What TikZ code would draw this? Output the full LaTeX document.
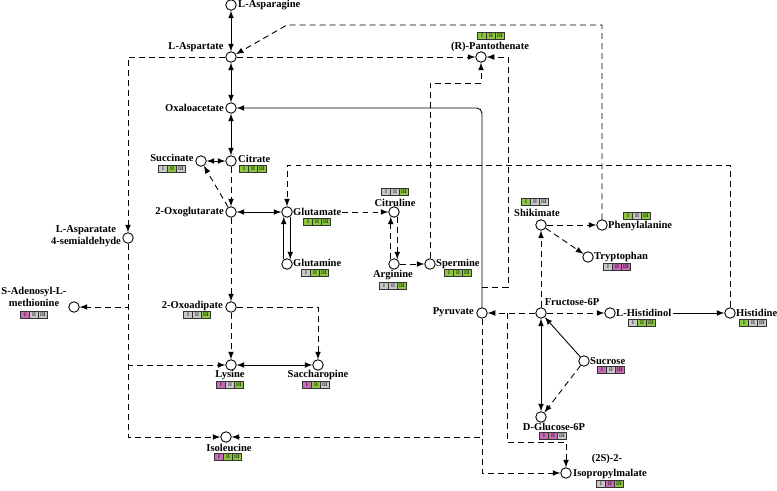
\documentclass[tikz,border=0pt]{standalone}
\usepackage{fontspec}
\setmainfont{Liberation Serif}
\usetikzlibrary{arrows,positioning}
\definecolor{grn}{HTML}{8DC63F}
\definecolor{gry}{HTML}{C8C8C8}
\definecolor{pnk}{HTML}{C76BB4}
\tikzstyle{metab} = [circle, draw=black, fill=white, minimum size=0.21cm, inner sep=0pt, line width=0.5pt]
\tikzstyle{lbl} = [font=\bfseries\fontsize{6}{6.6}\selectfont, inner sep=0.5pt, align=center]
\tikzstyle{cell} = [rectangle, draw=black!80, line width=0.4pt, minimum width=0.18cm, minimum height=0.15cm, inner sep=0pt, font=\fontsize{3.2}{3.5}\selectfont]
\tikzstyle{arrow} = [->,>=latex, line width=0.5pt]
\tikzstyle{biarrow} = [<->,>=latex, line width=0.5pt]
\tikzstyle{darrow} = [->,>=latex, line width=0.5pt, dash pattern=on 3.4pt off 2.3pt]
% three level cells I II III
\newcommand{\lvls}[5]{%
  \node[cell, fill=#3, xshift=-0.18cm] (#1a) at (#2) {I};
  \node[cell, fill=#4, right=-0.4pt of #1a] (#1b) {II};
  \node[cell, fill=#5, right=-0.4pt of #1b] (#1c) {III};
}

\begin{document}
\begin{tikzpicture}[x=0.02cm, y=-0.02cm]
\useasboundingbox (0,0) rectangle (777,490);
%代谢物
\node[metab] (asn) at (231,5) {};
\node[metab] (asp) at (231,57) {};
\node[metab] (oaa) at (231,108) {};
\node[metab] (cit) at (231,161) {};
\node[metab] (suc) at (201,161) {};
\node[metab] (akg) at (231,212) {};
\node[metab] (glu) at (287,212) {};
\node[metab] (gln) at (287,264) {};
\node[metab] (citr) at (394,212) {};
\node[metab] (arg) at (394,264) {};
\node[metab] (spm) at (430,264) {};
\node[metab] (pan) at (481,57) {};
\node[metab] (asa) at (128,238) {};
\node[metab] (sam) at (74,307) {};
\node[metab] (oad) at (231,307) {};
\node[metab] (lys) at (231,365) {};
\node[metab] (sac) at (318,365) {};
\node[metab] (ile) at (226,437) {};
\node[metab] (pyr) at (482,313) {};
\node[metab] (shk) at (541,225) {};
\node[metab] (phe) at (602,225) {};
\node[metab] (trp) at (588,257) {};
\node[metab] (fru) at (541,313) {};
\node[metab] (hol) at (610,313) {};
\node[metab] (his) at (730,313) {};
\node[metab] (scr) at (584,361) {};
\node[metab] (g6p) at (541,417) {};
\node[metab] (ipm) at (566,473) {};
%名称
\node[lbl, anchor=west] (asnT) at (237,5) {L-Asparagine};
\node[lbl] (aspT) at (196,47) {L-Aspartate};
\node[lbl, anchor=east] (oaaT) at (225,108) {Oxaloacetate};
\node[lbl, anchor=west] (citT) at (237,159) {Citrate};
\node[lbl] (sucT) at (172,158) {Succinate};
\node[lbl, anchor=east] (akgT) at (225,212) {2-Oxoglutarate};
\node[lbl, anchor=west] (gluT) at (292,212) {Glutamate};
\node[lbl, anchor=west] (glnT) at (292,263) {Glutamine};
\node[lbl] (citrT) at (395,203) {Citruline};
\node[lbl] (argT) at (393,275) {Arginine};
\node[lbl, anchor=west] (spmT) at (435,264) {Spermine};
\node[lbl] (panT) at (490,47) {(R)-Pantothenate};
\node[lbl] (asaT) at (86,236) {L-Asparatate\\4-semialdehyde};
\node[lbl] (samT) at (34,297) {S-Adenosyl-L-\\methionine};
\node[lbl, anchor=east] (oadT) at (224,306) {2-Oxoadipate};
\node[lbl] (lysT) at (230,375) {Lysine};
\node[lbl] (sacT) at (318,375) {Saccharopine};
\node[lbl] (ileT) at (229,448) {Isoleucine};
\node[lbl, anchor=east] (pyrT) at (475,312) {Pyruvate};
\node[lbl] (shkT) at (537,213) {Shikimate};
\node[lbl, anchor=west] (pheT) at (607,226) {Phenylalanine};
\node[lbl, anchor=west] (trpT) at (593,257) {Tryptophan};
\node[lbl] (fruT) at (572,302) {Fructose-6P};
\node[lbl, anchor=west] (holT) at (615,313) {L-Histidinol};
\node[lbl, anchor=west] (hisT) at (735,313) {Histidine};
\node[lbl, anchor=west] (scrT) at (589,361) {Sucrose};
\node[lbl] (g6pT) at (554,427) {D-Glucose-6P};
\node[lbl] (ipmT) at (607,459) {(2S)-2-};
\node[lbl, anchor=west] (ipmU) at (572,474) {Isopropylmalate};
%表达水平
\lvls{panL}{491,36}{grn}{grn}{grn}
\lvls{sucL}{172,169}{gry}{grn}{gry}
\lvls{citL}{253,169}{grn}{grn}{grn}
\lvls{gluL}{317,222}{grn}{grn}{grn}
\lvls{glnL}{315,273}{gry}{grn}{grn}
\lvls{citrL}{395,192}{gry}{gry}{grn}
\lvls{argL}{393,286}{gry}{gry}{grn}
\lvls{spmL}{458,273}{grn}{grn}{grn}
\lvls{samL}{34,315}{pnk}{gry}{gry}
\lvls{oadL}{197,315}{gry}{gry}{grn}
\lvls{lysL}{230,385}{pnk}{gry}{grn}
\lvls{sacL}{316,385}{pnk}{grn}{gry}
\lvls{ileL}{228,457}{pnk}{grn}{grn}
\lvls{shkL}{535,202}{grn}{gry}{gry}
\lvls{pheL}{637,216}{grn}{gry}{grn}
\lvls{trpL}{617,267}{gry}{pnk}{pnk}
\lvls{holL}{642,323}{gry}{grn}{grn}
\lvls{hisL}{753,323}{grn}{gry}{gry}
\lvls{scrL}{611,370}{pnk}{gry}{pnk}
\lvls{g6pL}{553,436}{pnk}{pnk}{gry}
\lvls{ipmL}{610,484}{gry}{pnk}{grn}
%折点
\coordinate (pheTop) at (287,25);
\coordinate (panLow) at (481,83);
\coordinate (pyrUp) at (482,287);
\coordinate (panRight) at (508,57);
\coordinate (hisTop) at (730,165);
\coordinate (fruLeft) at (507,313);
\coordinate (ipmTop) at (566,442);
%连接
\draw [biarrow] (asp) -- (asn);
\draw [biarrow] (asp) -- (oaa);
\draw [biarrow] (oaa) -- (cit);
\draw [biarrow] (cit) -- (suc);
\draw [darrow] (cit) -- (akg);
\draw [darrow] (akg) -- (suc);
\draw [biarrow] (akg) -- (glu);
\draw [arrow] (gln.125) -- (glu.235);
\draw [arrow] (glu.305) -- (gln.55);
\draw [darrow] (gluT.east) -- (citr);
\draw [darrow] (arg.125) -- (citr.235);
\draw [darrow] (citr.305) -- (arg.55);
\draw [darrow] (arg) -- (spm);
\draw [darrow] (spm) |- (panLow) -- (pan);
\draw [darrow] (asp) -- (pan);
\draw [darrow] (pyrUp) -| (panRight) -- (pan);
\draw [arrow, rounded corners=3pt] (pyr) |- (oaa);
\draw [darrow] (phe) |- (pheTop) -- (asp);
\draw [darrow] (asp) -| (asa);
\draw [darrow] (asa) |- (sam);
\draw [darrow] (asa) |- (lys);
\draw [darrow] (asa) |- (ile);
\draw [darrow] (akg) -- (oad);
\draw [darrow] (oad) -- (lys);
\draw [darrow] (oad) -| (sac);
\draw [biarrow] (lys) -- (sac);
\draw [darrow] (pyr) |- (ile);
\draw [darrow] (pyr) |- (ipm);
\draw [darrow] (fru) -- (pyr);
\draw [darrow] (fruLeft) |- (ipmTop) -- (ipm);
\draw [darrow] (fru) -- (shk);
\draw [darrow] (shk) -- (phe);
\draw [darrow] (shk) -- (trp);
\draw [darrow] (fru) -- (hol);
\draw [arrow] (holT.east) -- (his);
\draw [darrow] (his) -- (hisTop) -| (glu);
\draw [biarrow] (fru) -- (g6p);
\draw [arrow] (scr) -- (fru);
\draw [darrow] (scr) -- (g6p);
\end{tikzpicture}
\end{document}
